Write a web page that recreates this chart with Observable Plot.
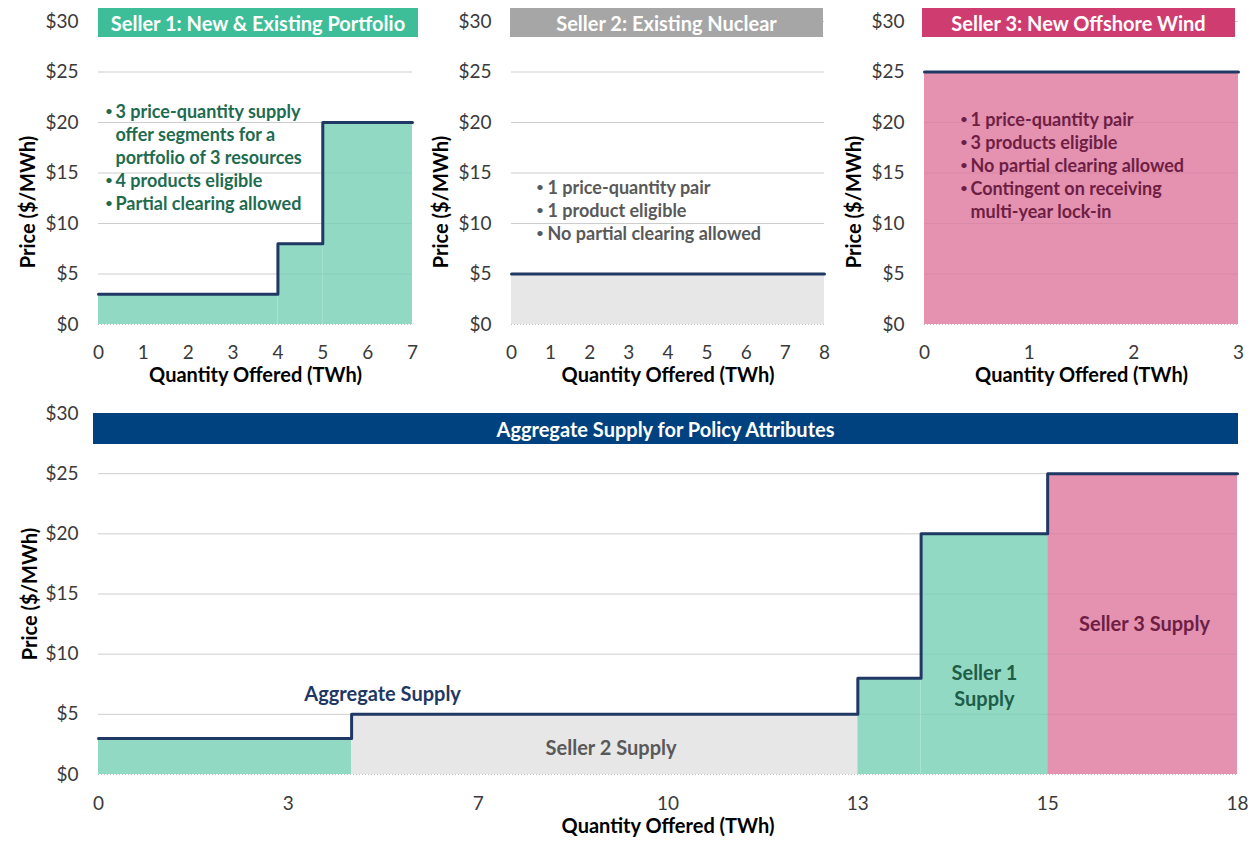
<!DOCTYPE html>
<html><head><meta charset="utf-8">
<script src="https://cdn.jsdelivr.net/npm/d3@7"></script>
<script src="https://cdn.jsdelivr.net/npm/@observablehq/plot@0.6"></script>
<style>
body{margin:0;background:#fff;font-family:Lato,"Open Sans",sans-serif;}
#wrap{position:relative;width:1254px;height:844px;overflow:hidden;background:#fff;}
.panel{position:absolute;}
.title{position:absolute;color:#fff;font-weight:bold;font-size:20px;display:flex;align-items:center;justify-content:center;white-space:nowrap;font-family:Lato,sans-serif;}
</style></head>
<body><div id="wrap"></div>
<script>
// ---- data ----
const seller1Qty = [4, 1, 2];
const seller1Price = [3, 8, 20];
const seller2Qty = [8];
const seller2Price = [5];
const seller3Qty = [3];
const seller3Price = [25];
const aggSeller = ["Seller 1", "Seller 2", "Seller 1", "Seller 1", "Seller 3"];
const aggQty = [4, 8, 1, 2, 3];
const aggPrice = [3, 5, 8, 20, 25];
const priceTicks = [0, 5, 10, 15, 20, 25, 30];
const s1Ticks = [0, 1, 2, 3, 4, 5, 6, 7];
const s2Ticks = [0, 1, 2, 3, 4, 5, 6, 7, 8];
const s3Ticks = [0, 1, 2, 3];
const aggTickValues = [0, 3, 6, 9, 12, 15, 18];
const aggTickLabels = ["0", "3", "7", "10", "13", "15", "18"];
const titles = ["Seller 1: New & Existing Portfolio", "Seller 2: Existing Nuclear", "Seller 3: New Offshore Wind", "Aggregate Supply for Policy Attributes"];
const notes1 = "3 price-quantity supply\noffer segments for a\nportfolio of 3 resources\n4 products eligible\nPartial clearing allowed";
const bullets1 = "•\n\n\n•\n•";
const notes2 = "1 price-quantity pair\n1 product eligible\nNo partial clearing allowed";
const bullets2 = "•\n•\n•";
const notes3 = "1 price-quantity pair\n3 products eligible\nNo partial clearing allowed\nContingent on receiving\nmulti-year lock-in";
const bullets3 = "•\n•\n•\n•\n";
const aggLabelText = ["Aggregate Supply", "Seller 2 Supply", "Seller 1\nSupply", "Seller 3 Supply"];
const aggLabelX = [4.49, 8.1, 14.0, 16.53];
const aggLabelY = [6.8, 2.3, 7.5, 12.6];
const aggLabelColor = ["#1F3864", "#595959", "#1E5E48", "#6E1E44"];

// ---- styles ----
const fillColors = {"Seller 1": "#92D9C4", "Seller 2": "#E7E7E7", "Seller 3": "#E492B0"};
const lineColor = "#1F3864";
const noteSize = 18, noteLead = 23, bulletSize = 12;

function segmentsOf(qty, price, seller) {
  let x = 0;
  return qty.map((q, i) => {
    const s = {x1: x, x2: x + q, price: price[i], seller: Array.isArray(seller) ? seller[i] : seller};
    x += q;
    return s;
  });
}
function stepPoints(segs) {
  const pts = segs.map(s => ({x: s.x1, y: s.price}));
  const last = segs[segs.length - 1];
  pts.push({x: last.x2, y: last.price});
  return pts;
}

function chart(o) {
  const segs = segmentsOf(o.qty, o.price, o.seller);
  const total = d3.sum(o.qty);
  const grid = priceTicks.filter(d => d > 0);
  const marks = [
    Plot.ruleY(grid, {stroke: "#D9D9D9", strokeWidth: 1}),
    Plot.rectY(segs, {x1: "x1", x2: "x2", y: "price", fill: d => fillColors[d.seller]}),
    Plot.ruleY(grid, {stroke: "#000", strokeOpacity: 0.05}),
    Plot.ruleY([0], {stroke: "#BFBFBF", strokeDasharray: "1,2"}),
    Plot.line(stepPoints(segs), {x: "x", y: "y", curve: "step-after", stroke: lineColor, strokeWidth: 3}),
    Plot.text(["Price ($/MWh)"], {frameAnchor: "left", textAnchor: "middle", rotate: -90, dx: o.yTitleDx, dy: o.yTitleDy, fontWeight: "bold", fontSize: 20, fill: "#000"}),
    Plot.text(["Quantity Offered (TWh)"], {frameAnchor: "bottom", textAnchor: "middle", dy: o.xTitleDy, fontWeight: "bold", fontSize: 20, fill: "#000"})
  ];
  if (o.notes) {
    marks.push(Plot.text([o.bullets], {frameAnchor: "top-left", dx: o.bulletDx, dy: o.notesDy - 3.5, lineAnchor: "top", textAnchor: "start", lineHeight: noteLead / bulletSize, fontWeight: "bold", fontSize: bulletSize, fill: o.noteColor}));
    marks.push(Plot.text([o.notes], {frameAnchor: "top-left", dx: o.notesDx, dy: o.notesDy, lineAnchor: "top", textAnchor: "start", lineHeight: noteLead / noteSize, fontWeight: "bold", fontSize: noteSize, fill: o.noteColor}));
  }
  if (o.labels) {
    marks.push(Plot.text(o.labels, {x: "x", y: "y", text: "text", fill: "color", fontWeight: "bold", fontSize: 20, lineHeight: 1.32}));
  }
  return Plot.plot({
    width: o.width, height: o.height,
    marginLeft: o.mL, marginRight: o.mR, marginTop: o.mT, marginBottom: o.mB,
    x: {domain: [0, total], ticks: o.xTicks, tickFormat: o.xTickFormat, tickSize: 0, tickPadding: o.xPad, label: null},
    y: {domain: [0, 30], ticks: priceTicks, tickFormat: d => "$" + d, tickSize: 0, tickPadding: 20, label: null},
    color: {type: "identity"},
    style: {fontFamily: "Lato", fontSize: "19px", color: "#3a3a3a", background: "transparent", overflow: "visible"},
    marks
  });
}

const wrap = document.getElementById("wrap");
function place(el, left, top) {
  el.classList.add("panel");
  el.style.left = left + "px";
  el.style.top = top + "px";
  wrap.appendChild(el);
}
function titleBox(text, left, top, w, h, bg) {
  const d = document.createElement("div");
  d.className = "title";
  d.textContent = text;
  Object.assign(d.style, {left: left + "px", top: top + "px", width: w + "px", height: h + "px", background: bg});
  wrap.appendChild(d);
}

const common = {height: 392, mL: 98, mT: 21, mB: 68, xPad: 21, yTitleDx: -70, yTitleDy: 29, xTitleDy: 57};

place(chart({...common, qty: seller1Qty, price: seller1Price, seller: "Seller 1", xTicks: s1Ticks, xTickFormat: d => String(d),
  width: 420, mR: 8, notes: notes1, bullets: bullets1, noteColor: "#1E6B4F", notesDx: 17, bulletDx: 7, notesDy: 80.5}), 0, 0);
place(chart({...common, qty: seller2Qty, price: seller2Price, seller: "Seller 2", xTicks: s2Ticks, xTickFormat: d => String(d),
  width: 417, mR: 6, notes: notes2, bullets: bullets2, noteColor: "#595959", notesDx: 36, bulletDx: 25, notesDy: 156.5}), 413, 0);
place(chart({...common, qty: seller3Qty, price: seller3Price, seller: "Seller 3", xTicks: s3Ticks, xTickFormat: d => String(d),
  width: 428, mR: 16, notes: notes3, bullets: bullets3, noteColor: "#6E1E44", notesDx: 46, bulletDx: 36, notesDy: 88.5}), 826, 0);

const aggLabels = aggLabelText.map((t, i) => ({text: t, x: aggLabelX[i], y: aggLabelY[i], color: aggLabelColor[i]}));
place(chart({qty: aggQty, price: aggPrice, seller: aggSeller, xTicks: aggTickValues,
  xTickFormat: d => aggTickLabels[aggTickValues.indexOf(d)],
  width: 1254, height: 452, mL: 98, mR: 17, mT: 21, mB: 70, xPad: 22, yTitleDx: -68, yTitleDy: 0, xTitleDy: 58,
  labels: aggLabels}), 0, 392);

titleBox(titles[0], 98, 8, 320, 29, "#3DBE98");
titleBox(titles[1], 510, 8, 313, 29, "#A6A6A6");
titleBox(titles[2], 922, 8, 313, 29, "#CF3D70");
titleBox(titles[3], 93, 413, 1145, 31, "#00427F");
</script>
</body></html>
